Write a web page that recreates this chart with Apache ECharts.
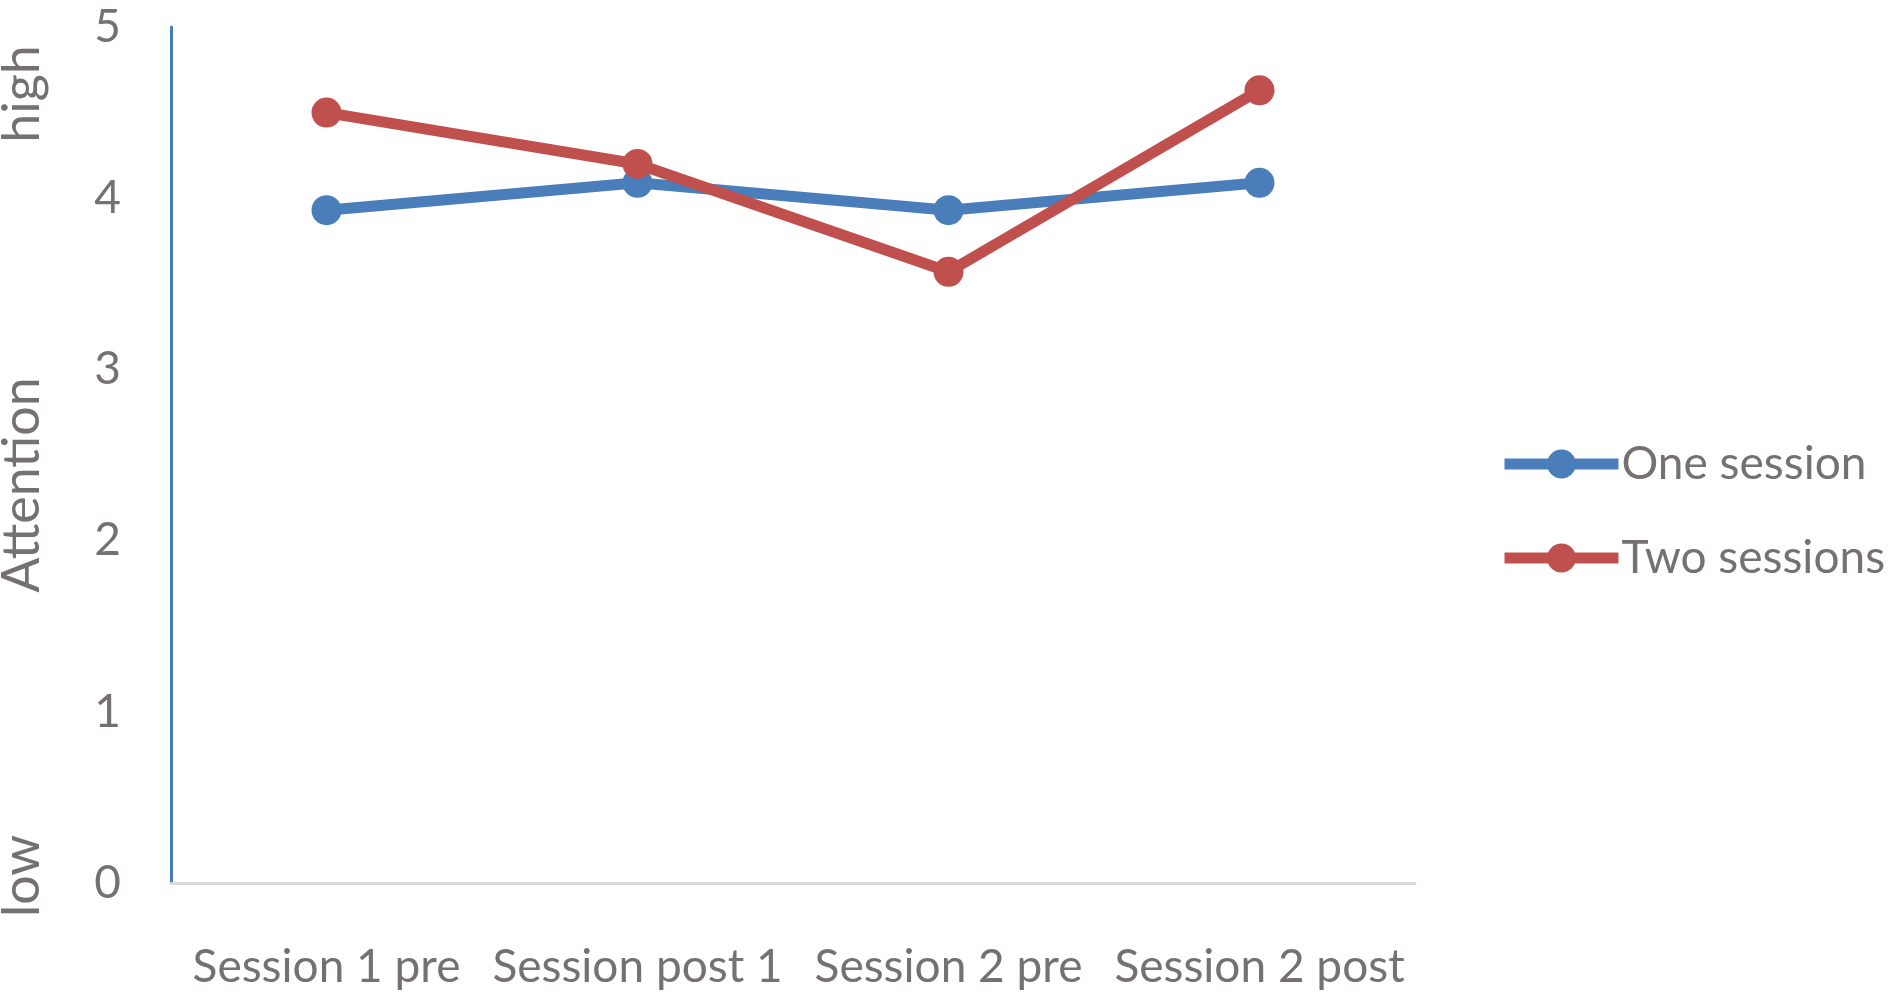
<!DOCTYPE html>
<html>
<head>
<meta charset="utf-8">
<script src="https://cdn.jsdelivr.net/npm/echarts@6/dist/echarts.min.js"></script>
<style>html,body{margin:0;padding:0;background:#fff}#c{width:1893px;height:998px}</style>
</head>
<body>
<div id="c"></div>
<script>
const categories = ['Session 1 pre', 'Session post 1', 'Session 2 pre', 'Session 2 post'];
const oneSession = [3.93, 4.09, 3.93, 4.09];
const twoSessions = [4.50, 4.20, 3.57, 4.63];
const yTicks = { min: 0, max: 5, interval: 1 };
const axisWords = { low: 'low', mid: 'Attention', high: 'high' };

const FONT = 'Lato';
const GRAY = '#767171';
const BLUE = '#4a7ebb';
const RED = '#c0504d';

const chart = echarts.init(document.getElementById('c'), null, { renderer: 'canvas' });
chart.setOption({
  backgroundColor: '#fff',
  animation: false,
  grid: { left: 171, right: 478, top: 27, bottom: 115, containLabel: false },
  legend: {
    orient: 'vertical',
    left: 1494,
    top: 434,
    itemWidth: 114,
    itemHeight: 36,
    itemGap: 44,
    lineStyle: { width: 11 },
    textStyle: { fontFamily: FONT, fontSize: 46, color: GRAY, lineHeight: 50, padding: [0, 0, 0, -2] },
    data: ['One session', 'Two sessions']
  },
  xAxis: {
    type: 'category',
    data: categories,
    boundaryGap: true,
    axisLine: { lineStyle: { color: '#d9d9d9', width: 3 } },
    axisTick: { show: false },
    axisLabel: { fontFamily: FONT, fontSize: 46, color: GRAY, margin: 59, lineHeight: 50, interval: 0 }
  },
  yAxis: {
    type: 'value',
    min: yTicks.min, max: yTicks.max, interval: yTicks.interval,
    axisLine: { show: true, lineStyle: { color: BLUE, width: 3 } },
    axisTick: { show: false },
    splitLine: { show: false },
    axisLabel: { fontFamily: FONT, fontSize: 46, color: GRAY, margin: 50 }
  },
  graphic: [
    { type: 'text', x: 22, y: 876, rotation: Math.PI / 2, style: { text: axisWords.low, fontFamily: FONT, fontSize: 52, fill: GRAY, textAlign: 'center', textVerticalAlign: 'middle' } },
    { type: 'text', x: 22, y: 485, rotation: Math.PI / 2, style: { text: axisWords.mid, fontFamily: FONT, fontSize: 52, fill: GRAY, textAlign: 'center', textVerticalAlign: 'middle' } },
    { type: 'text', x: 22, y: 94, rotation: Math.PI / 2, style: { text: axisWords.high, fontFamily: FONT, fontSize: 52, fill: GRAY, textAlign: 'center', textVerticalAlign: 'middle' } }
  ],
  series: [
    {
      name: 'One session', type: 'line', data: oneSession,
      symbol: 'circle', symbolSize: 30,
      lineStyle: { color: BLUE, width: 11 },
      itemStyle: { color: BLUE }
    },
    {
      name: 'Two sessions', type: 'line', data: twoSessions,
      symbol: 'circle', symbolSize: 30,
      lineStyle: { color: RED, width: 11 },
      itemStyle: { color: RED }
    }
  ]
});
</script>
</body>
</html>
